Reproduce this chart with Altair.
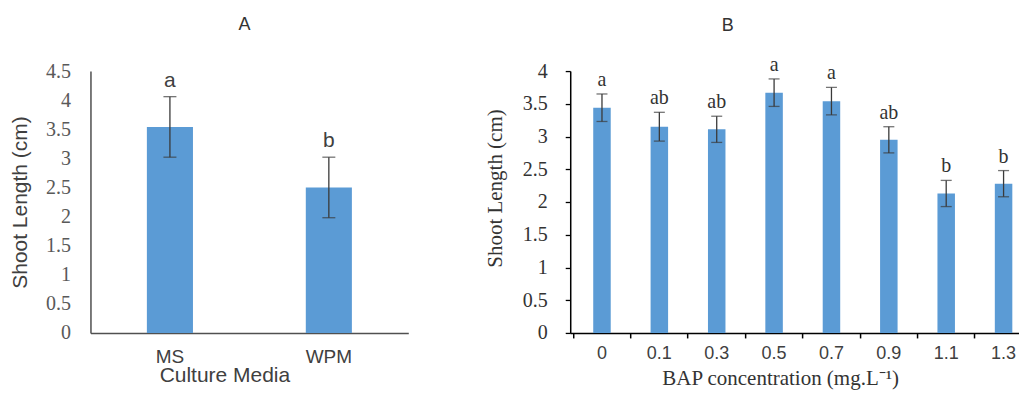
import altair as alt
import pandas as pd

# ---- Panel A data ----
media = ["MS", "WPM"]
media_len = [3.54, 2.50]
media_err = [0.52, 0.52]
media_grp = ["a", "b"]

# ---- Panel B data ----
bap = ["0", "0.1", "0.3", "0.5", "0.7", "0.9", "1.1", "1.3"]
bap_len = [3.44, 3.15, 3.11, 3.67, 3.54, 2.95, 2.13, 2.28]
bap_err = [0.21, 0.22, 0.20, 0.21, 0.21, 0.20, 0.20, 0.20]
bap_grp = ["a", "ab", "ab", "a", "a", "ab", "b", "b"]

yA_ticks = [0, 0.5, 1, 1.5, 2, 2.5, 3, 3.5, 4, 4.5]
yB_ticks = [0, 0.5, 1, 1.5, 2, 2.5, 3, 3.5, 4]

BAR = "#5B9BD5"
ERR = "#3a3a3a"
SANS = "Liberation Sans"
SERIF = "Liberation Serif"

dfA = pd.DataFrame({"cat": media, "len": media_len, "err": media_err, "grp": media_grp})
dfA["lo"] = dfA["len"] - dfA["err"]
dfA["hi"] = dfA["len"] + dfA["err"]

dfB = pd.DataFrame({"cat": bap, "len": bap_len, "err": bap_err, "grp": bap_grp})
dfB["lo"] = dfB["len"] - dfB["err"]
dfB["hi"] = dfB["len"] + dfB["err"]

H = 262
NOVIEW = alt.ViewBackground(strokeWidth=0, strokeOpacity=0)

# ---------- Panel A ----------
xA_scale = alt.Scale(paddingInner=0.71, paddingOuter=0.355)
yA_scale = alt.Scale(domain=[0, 4.5], nice=False, zero=True)
titleA = "Shoot Length (cm)"

xA_axis = alt.Axis(title="Culture Media", labelAngle=0, ticks=True, tickSize=0, tickOpacity=0,
                   labelPadding=15, labelFont=SANS, labelFontSize=19, labelColor="#404040",
                   titleFont=SANS, titleFontSize=21, titleFontWeight="normal",
                   titleColor="#404040", titleX=134, titleY=49, titleBaseline="alphabetic",
                   domainColor="#505050", domainWidth=1.5)
yA_axis = alt.Axis(title=titleA, values=yA_ticks, format="~g", ticks=True, tickSize=0,
                   tickOpacity=0, grid=False, labelOverlap=False, labelPadding=20,
                   labelFont=SERIF, labelFontSize=20, labelColor="#595959",
                   titleFont=SANS, titleFontSize=21,
                   titleFontWeight="normal", titleColor="#404040", titleX=-70,
                   titleBaseline="middle", domainColor="#505050", domainWidth=1.5)


def xa():
    return alt.X("cat:N", sort=media, scale=xA_scale, axis=xA_axis, title="Culture Media")


def ya(field):
    return alt.Y(field, scale=yA_scale, axis=yA_axis, title=titleA)


baseA = alt.Chart(dfA)
barsA = baseA.mark_bar(color=BAR).encode(x=xa(), y=ya("len:Q"))
ruleA = baseA.mark_rule(color=ERR, strokeWidth=1.3).encode(x=xa(), y=ya("lo:Q"), y2="hi:Q")
capHiA = baseA.mark_tick(color=ERR, size=13, thickness=1.3).encode(x=xa(), y=ya("hi:Q"))
capLoA = baseA.mark_tick(color=ERR, size=13, thickness=1.3).encode(x=xa(), y=ya("lo:Q"))
textA = baseA.mark_text(font=SANS, fontSize=21, color="#404040", baseline="alphabetic",
                        dy=-10).encode(x=xa(), y=ya("hi:Q"), text="grp:N")

chartA = alt.layer(barsA, ruleA, capHiA, capLoA, textA).properties(
    width=318, height=H, view=NOVIEW,
    title=alt.TitleParams("A", font=SANS, fontSize=18, fontWeight="normal", color="#333333",
                          frame="group", anchor="middle", dx=-5, offset=27))

# ---------- Panel B ----------
xB_scale = alt.Scale(paddingInner=0.695, paddingOuter=0.2587, align=0.775)
yB_scale = alt.Scale(domain=[0, 4], nice=False, zero=True)
titleB = "Shoot Length (cm)"
xtitleB = "BAP concentration (mg.L\u207b\u00b9)"

xB_axis = alt.Axis(title=xtitleB, labelAngle=0, ticks=True,
                   tickSize=5, tickColor="#000000", tickWidth=1.5, bandPosition=-1.14,
                   labelPadding=7, labelFont=SANS, labelFontSize=18, labelColor="#404040",
                   titleFont=SERIF, titleFontSize=21, titleFontWeight="normal",
                   titleColor="#333333", titleX=210, titleY=52, titleBaseline="alphabetic",
                   domainColor="#000000", domainWidth=1.5)
yB_axis = alt.Axis(title=titleB, values=yB_ticks, format="~g", ticks=True, tickSize=5,
                   tickColor="#000000", tickWidth=1.3, grid=False, labelOverlap=False,
                   labelPadding=18, labelFont=SERIF, labelFontSize=20, labelColor="#333333",
                   titleFont=SERIF, titleFontSize=21, titleFontWeight="normal",
                   titleColor="#333333", titleX=-75, titleY=117, titleBaseline="middle",
                   domainColor="#000000", domainWidth=1.5)


def xb():
    return alt.X("cat:N", sort=bap, scale=xB_scale, axis=xB_axis, title=xtitleB)


def yb(field):
    return alt.Y(field, scale=yB_scale, axis=yB_axis, title=titleB)


baseB = alt.Chart(dfB)
barsB = baseB.mark_bar(color=BAR).encode(x=xb(), y=yb("len:Q"))
ruleB = baseB.mark_rule(color=ERR, strokeWidth=1.3).encode(x=xb(), y=yb("lo:Q"), y2="hi:Q")
capHiB = baseB.mark_tick(color=ERR, size=11, thickness=1.3).encode(x=xb(), y=yb("hi:Q"))
capLoB = baseB.mark_tick(color=ERR, size=11, thickness=1.3).encode(x=xb(), y=yb("lo:Q"))
textB = baseB.mark_text(font=SERIF, fontSize=20, color="#333333", baseline="alphabetic",
                        dy=-8).encode(x=xb(), y=yb("hi:Q"), text="grp:N")

chartB = alt.layer(barsB, ruleB, capHiB, capLoB, textB).properties(
    width=449, height=H, view=NOVIEW,
    title=alt.TitleParams("B", font=SANS, fontSize=18, fontWeight="normal", color="#333333",
                          frame="group", anchor="middle", dx=-67, offset=20))

chart = alt.hconcat(chartA, chartB, spacing=75).properties(
    padding={"left": 0.5, "top": 8, "right": 0, "bottom": 5},
    background="white"
).configure_view(strokeWidth=0, stroke="transparent").configure_axisY(
    labelFont=SERIF
).configure_axisX(labelFont=SANS)

chart.save("out.html", embed_options={"renderer": "svg", "actions": False})
